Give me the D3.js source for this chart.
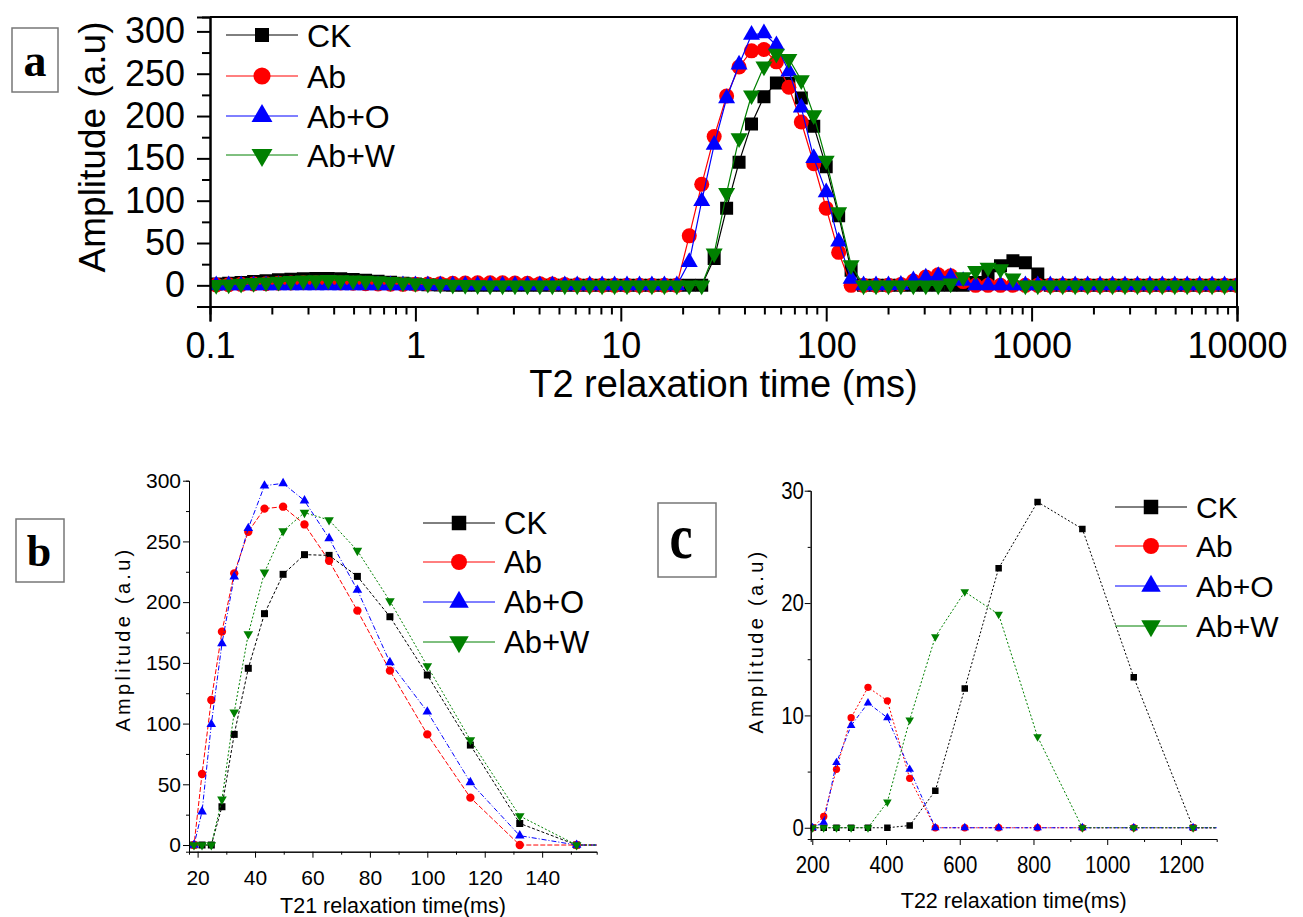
<!DOCTYPE html>
<html>
<head>
<meta charset="utf-8">
<script src="https://cdn.jsdelivr.net/npm/d3@7"></script>
<style>
  body { margin: 0; background: #fff; }
  svg { display: block; font-family: "Liberation Sans", Arial, sans-serif; }
</style>
</head>
<body>
<svg id="chart" width="1303" height="917"></svg>
<script>
// ---- data ----
const seriesNames = ["CK", "Ab", "Ab+O", "Ab+W"];
const seriesColors = ["#000000", "#ff0000", "#0000ff", "#008000"];

// T2 relaxation time grid (ms)
const t2 = [
  0.1072, 0.1233, 0.1417, 0.1630, 0.1874, 0.2154, 0.2477, 0.2848, 0.3275, 0.3765, 0.4329, 0.4977, 0.5722, 0.6579, 0.7565, 0.8698,
  1, 1.150, 1.322, 1.520, 1.748, 2.009, 2.310, 2.656, 3.054, 3.511, 4.037, 4.642, 5.337, 6.136, 7.055, 8.111, 9.326,
  10.72, 12.33, 14.17, 16.30, 18.74, 21.54, 24.77, 28.48, 32.75, 37.65, 43.29, 49.77, 57.22, 65.79, 75.65, 86.98,
  100, 115.0, 132.2, 152.0, 174.8, 200.9, 231.0, 265.6, 305.4, 351.1, 403.7, 464.2, 533.7, 613.6, 705.5, 811.1, 932.6,
  1072, 1233, 1417, 1630, 1874, 2154, 2477, 2848, 3275, 3765, 4329, 4977, 5722, 6579, 7565, 8697,
  10000
];

const ckAmp = [
  1.5, 2.5, 3.5, 4.5, 5.5, 6.5, 7.3, 7.9, 8.2, 8.2, 7.8, 7.0, 6.0, 4.8, 3.6, 2.5,
  1.6, 0.8, 0.3, 0, 0, 0, 0, 0, 0, 0, 0, 0, 0, 0, 0, 0, 0,
  0, 0, 0, 0, 0, 0, 0, 31.6, 91.1, 145.5, 190.5, 222.9, 239.1, 238.5, 221.2, 188.0,
  140.0, 82.3, 17.8, 0, 0, 0, 0, 0, 0, 0, 0, 0.2, 3.3, 12.4, 23.1, 29.0, 26.6,
  13.4, 0, 0, 0, 0, 0, 0, 0, 0, 0, 0, 0, 0, 0, 0, 0,
  0
];
const abAmp = [
  0.5, 0.8, 1.2, 1.6, 2.0, 2.4, 2.8, 3.0, 3.1, 3.0, 2.8, 2.4, 2.0, 1.6, 1.3, 1.2,
  1.3, 1.6, 2.0, 2.4, 2.8, 3.0, 3.1, 3.0, 2.8, 2.4, 2.0, 1.5, 1.0, 0.6, 0.3, 0, 0,
  0, 0, 0, 0, 0, 58.5, 119.4, 175.7, 223.7, 258.0, 277.0, 278.6, 264.0, 234.0, 193.0, 143.6,
  91.1, 39.0, 0, 0, 0, 0, 1.0, 5.2, 9.8, 12.5, 11.3, 4.4, 0, 0, 0, 0, 0,
  0, 0, 0, 0, 0, 0, 0, 0, 0, 0, 0, 0, 0, 0, 0, 0,
  0
];
const aboAmp = [
  0, 0, 0, 0, 0, 0, 0, 0, 0, 0, 0, 0, 0, 0, 0, 0,
  0, 0, 0, 0, 0, 0, 0, 0, 0, 0, 0, 0, 0, 0, 0, 0, 0,
  0, 0, 0, 0, 0, 27.5, 99.4, 166.0, 221.0, 260.8, 295.9, 297.8, 283.6, 252.5, 210.0, 150.4,
  109.8, 51.6, 7.7, 0, 0, 0, 0.5, 5.8, 9.1, 11.1, 9.8, 5.2, 0, 0, 0, 0, 0,
  0, 0, 0, 0, 0, 0, 0, 0, 0, 0, 0, 0, 0, 0, 0, 0,
  0
];
const abwAmp = [
  0.5, 1.2, 2.0, 2.8, 3.6, 4.4, 5.1, 5.7, 6.1, 6.3, 6.2, 5.9, 5.4, 4.8, 4.1, 3.4,
  2.7, 2.0, 1.4, 0.9, 0.5, 0.2, 0, 0, 0, 0, 0, 0, 0, 0, 0, 0, 0,
  0, 0, 0, 0, 0, 0, 0, 37.6, 109.3, 173.8, 224.5, 258.6, 273.7, 267.6, 242.4, 200.9,
  147.4, 86.5, 23.9, 0, 0, 0, 0, 0, 0, 0, 2.3, 9.6, 17.0, 21.0, 19.0, 8.1, 0,
  0, 0, 0, 0, 0, 0, 0, 0, 0, 0, 0, 0, 0, 0, 0, 0,
  0
];
const amps = [ckAmp, abAmp, aboAmp, abwAmp];

// tick values
const xMajorA = [0.1, 1, 10, 100, 1000, 10000];
const yMajorA = [0, 50, 100, 150, 200, 250, 300];
const yMinorA = [-25, 25, 75, 125, 175, 225, 275];
const xMajorB = [20, 40, 60, 80, 100, 120, 140];
const xMinorB = [30, 50, 70, 90, 110, 130, 150];
const yMajorB = [0, 50, 100, 150, 200, 250, 300];
const yMinorB = [25, 75, 125, 175, 225, 275];
const xMajorC = [200, 400, 600, 800, 1000, 1200];
const xMinorC = [300, 500, 700, 900, 1100];
const yMajorC = [0, 10, 20, 30];
const yMinorC = [5, 15, 25];

const svg = d3.select("#chart");

// ---- helpers ----
const symbolTypes = [d3.symbolSquare, d3.symbolCircle, d3.symbolTriangle, d3.symbolTriangle];
function markerD(i, size) {
  return d3.symbol().type(symbolTypes[i]).size(size)();
}
function markerRot(i) { return i === 3 ? " rotate(180)" : ""; }

function addClip(id, x0, y0, x1, y1) {
  svg.append("clipPath").attr("id", id)
    .append("rect").attr("x", x0).attr("y", y0).attr("width", x1 - x0).attr("height", y1 - y0);
}

function plotSeries(x, y, clipId, sizes, lineW, dashes) {
  const g = svg.append("g").attr("clip-path", `url(#${clipId})`);
  const [d0, d1] = x.domain();
  seriesNames.forEach((name, i) => {
    const pts = t2.map((t, j) => [t, amps[i][j]]);
    g.append("path")
      .datum(pts)
      .attr("fill", "none")
      .attr("stroke", seriesColors[i])
      .attr("stroke-width", lineW)
      .attr("stroke-dasharray", dashes ? dashes[i] : null)
      .attr("d", d3.line().x(d => x(d[0])).y(d => y(d[1])));
    g.selectAll(null)
      .data(pts.filter(d => d[0] >= d0 * 0.9 && d[0] <= d1 * 1.1))
      .join("path")
      .attr("transform", d => `translate(${x(d[0])},${y(d[1])})${markerRot(i)}`)
      .attr("d", markerD(i, sizes[i]))
      .attr("fill", seriesColors[i]);
  });
}

function legend(x0, x1, xText, rows, sizes, fontSize) {
  const g = svg.append("g");
  seriesNames.forEach((name, i) => {
    const cy = rows[i];
    g.append("line").attr("x1", x0).attr("x2", x1).attr("y1", cy).attr("y2", cy)
      .attr("stroke", seriesColors[i]).attr("stroke-width", 1);
    g.append("path")
      .attr("transform", `translate(${(x0 + x1) / 2},${cy})${markerRot(i)}`)
      .attr("d", markerD(i, sizes[i]))
      .attr("fill", seriesColors[i]);
    g.append("text").attr("x", xText).attr("y", cy).attr("dy", "0.36em")
      .attr("font-size", fontSize).attr("fill", "#000").text(name);
  });
}

function labelBox(x, y, w, h, letter, tx, ty, fs, sy) {
  svg.append("rect").attr("x", x).attr("y", y).attr("width", w).attr("height", h)
    .attr("fill", "none").attr("stroke", "#777").attr("stroke-width", 1.5);
  svg.append("text")
    .attr("transform", `translate(${tx},${ty}) scale(1,${sy})`)
    .attr("text-anchor", "middle")
    .attr("font-family", "'Liberation Serif', 'Times New Roman', serif")
    .attr("font-weight", "bold").attr("font-size", fs).text(letter);
}

function styleAxis(g, width) {
  g.select(".domain").attr("stroke", "#000").attr("stroke-width", width);
  g.selectAll(".tick line").attr("stroke", "#000").attr("stroke-width", width);
  g.selectAll(".tick text").attr("fill", "#000");
}

// =========== Panel a ===========
const xA = d3.scaleLog().domain([0.1, 10000]).range([210, 1237]);
const yA = d3.scaleLinear().domain([-25, 317]).range([306.5, 17]);

addClip("clipA", 210, 17, 1237, 306.5);
plotSeries(xA, yA, "clipA", [169, 177, 125, 125], 1.2, null);

const minorA = xA.ticks().filter(v => !xMajorA.some(m => Math.abs(m - v) < 1e-9));
const gxA = svg.append("g").attr("transform", "translate(0,306.5)");
gxA.append("g").call(d3.axisBottom(xA).tickValues(minorA).tickSize(8).tickFormat(""))
  .call(g => styleAxis(g, 2));
gxA.append("g").call(d3.axisBottom(xA).tickValues(xMajorA).tickSize(15).tickPadding(11)
    .tickFormat(d3.format("~g")))
  .call(g => styleAxis(g, 2))
  .selectAll("text").attr("font-size", 36);

const gyA = svg.append("g").attr("transform", "translate(210,0)");
gyA.append("g").call(d3.axisLeft(yA).tickValues(yMinorA).tickSize(8).tickFormat(""))
  .call(g => styleAxis(g, 2));
gyA.append("g").call(d3.axisLeft(yA).tickValues(yMajorA).tickSize(13).tickPadding(12))
  .call(g => styleAxis(g, 2))
  .selectAll("text").attr("font-size", 36);

// frame top/right
svg.append("path")
  .attr("d", `M210,17H1237V306.5`)
  .attr("fill", "none").attr("stroke", "#000").attr("stroke-width", 2);

svg.append("text").attr("x", 723.5).attr("y", 397).attr("text-anchor", "middle")
  .attr("font-size", 38).text("T2 relaxation time (ms)");
svg.append("text").attr("transform", "translate(105,147) rotate(-90)")
  .attr("text-anchor", "middle").attr("font-size", 37).text("Amplitude (a.u)");

legend(226, 298, 307, [35, 76, 116, 155], [196, 230, 190, 190], 32);
labelBox(12, 28, 46, 64, "a", 35, 76, 46, 1);

// =========== Panel b ===========
const xB = d3.scaleLinear().domain([17, 159]).range([189, 596.7]);
const yB = d3.scaleLinear().domain([-5.5, 300]).range([851.7, 480.7]);
const dashB = ["3,2", "5,2", "5,2,1,2", "2,2"];

addClip("clipB", 189, 470, 596.7, 851.7);
plotSeries(xB, yB, "clipB", [49, 55, 40, 40], 1, dashB);

const gxB = svg.append("g").attr("transform", "translate(0,851.7)");
gxB.append("g").call(d3.axisBottom(xB).tickValues(xMinorB).tickSize(3).tickFormat(""))
  .call(g => styleAxis(g, 1));
gxB.append("g").call(d3.axisBottom(xB).tickValues(xMajorB).tickSize(6).tickPadding(12).tickSizeOuter(0))
  .call(g => styleAxis(g, 1))
  .selectAll("text").attr("font-size", 21);
const gyB = svg.append("g").attr("transform", "translate(189,0)");
gyB.append("g").call(d3.axisLeft(yB).tickValues(yMinorB).tickSize(3).tickFormat(""))
  .call(g => styleAxis(g, 1));
gyB.append("g").call(d3.axisLeft(yB).tickValues(yMajorB).tickSize(6).tickPadding(2).tickSizeOuter(0))
  .call(g => styleAxis(g, 1))
  .selectAll("text").attr("font-size", 21);

svg.append("text").attr("x", 393).attr("y", 913).attr("text-anchor", "middle")
  .attr("font-size", 21.5).text("T21 relaxation time(ms)");
svg.append("text").attr("transform", "translate(130,639) rotate(-90)")
  .attr("text-anchor", "middle").attr("font-size", 20).attr("letter-spacing", 3.3)
  .text("Amplitude (a.u)");

legend(423, 495, 504, [523, 562, 602, 642], [210, 200, 165, 165], 31);
labelBox(16, 519, 48, 63, "b", 39, 566, 44, 1);

// =========== Panel c ===========
const xC = d3.scaleLinear().domain([195.7, 1297]).range([810.7, 1216.7]);
const yC = d3.scaleLinear().domain([-1, 30]).range([839, 490.7]);
const dashC = ["2,2", "2,2", "4,2,1,2", "2,2"];

addClip("clipC", 810.7, 480, 1216.7, 839);
plotSeries(xC, yC, "clipC", [42, 42, 32, 32], 1, dashC);

const gxC = svg.append("g").attr("transform", "translate(0,839)");
gxC.append("g").call(d3.axisBottom(xC).tickValues(xMinorC).tickSize(3).tickFormat(""))
  .call(g => styleAxis(g, 1));
gxC.append("g").call(d3.axisBottom(xC).tickValues(xMajorC).tickSize(6).tickPadding(11).tickSizeOuter(0)
    .tickFormat(d3.format("d")))
  .call(g => styleAxis(g, 1))
  .selectAll("text").attr("font-size", 24).attr("transform", "scale(0.85,1)");
const gyC = svg.append("g").attr("transform", "translate(810.7,0)");
gyC.append("g").call(d3.axisLeft(yC).tickValues(yMinorC).tickSize(3).tickFormat(""))
  .call(g => styleAxis(g, 1));
gyC.append("g").call(d3.axisLeft(yC).tickValues(yMajorC).tickSize(6).tickPadding(2).tickSizeOuter(0))
  .call(g => styleAxis(g, 1))
  .selectAll("text").attr("font-size", 24).attr("transform", "scale(0.85,1)");

svg.append("text").attr("x", 1013.7).attr("y", 908).attr("text-anchor", "middle")
  .attr("font-size", 21.5).text("T22 relaxation time(ms)");
svg.append("text").attr("transform", "translate(763,641) rotate(-90)")
  .attr("text-anchor", "middle").attr("font-size", 20).attr("letter-spacing", 3.3)
  .text("Amplitude (a.u)");

legend(1115, 1187, 1196, [507, 546, 586, 626], [210, 200, 165, 165], 30);
labelBox(658, 503, 58, 74, "c", 681, 558, 52, 1.2);
</script>
</body>
</html>
